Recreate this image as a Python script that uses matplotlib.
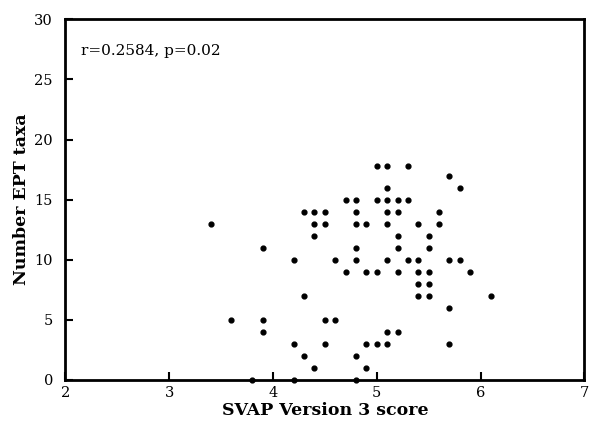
import matplotlib
matplotlib.use("Agg")
import matplotlib.pyplot as plt

# SVAP score vs number of EPT taxa
svap = [3.4, 3.6, 3.8, 3.9, 3.9, 3.9,
        4.2, 4.2, 4.2, 4.3, 4.3, 4.3,
        4.4, 4.4, 4.4, 4.4, 4.5, 4.5, 4.5, 4.5,
        4.6, 4.6, 4.7, 4.7,
        4.8, 4.8, 4.8, 4.8, 4.8, 4.8, 4.8,
        4.9, 4.9, 4.9, 4.9, 5.0, 5.0, 5.0, 5.0,
        5.1, 5.1, 5.1, 5.1, 5.1, 5.1, 5.1, 5.1,
        5.2, 5.2, 5.2, 5.2, 5.2, 5.2,
        5.3, 5.3, 5.3,
        5.4, 5.4, 5.4, 5.4, 5.4,
        5.5, 5.5, 5.5, 5.5, 5.5,
        5.6, 5.6, 5.7, 5.7, 5.7, 5.7,
        5.8, 5.8, 5.9, 6.1]
ept = [13, 5, 0, 11, 5, 4,
       10, 3, 0, 14, 7, 2,
       14, 13, 12, 1, 14, 13, 5, 3,
       10, 5, 15, 9,
       15, 14, 13, 11, 10, 2, 0,
       13, 9, 3, 1, 17.8, 15, 9, 3,
       17.8, 16, 15, 14, 13, 10, 4, 3,
       15, 14, 12, 11, 9, 4,
       17.8, 15, 10,
       13, 10, 9, 8, 7,
       12, 11, 9, 8, 7,
       14, 13, 17, 10, 6, 3,
       16, 10, 9, 7]

plt.rcParams['font.family'] = ['DejaVu Serif']

fig = plt.figure(figsize=(6.03, 4.26), dpi=100)
ax = fig.add_axes([0.1085, 0.108, 0.8605, 0.8467])

ax.scatter(svap, ept, s=12, color='black', clip_on=False, zorder=3)

ax.set_xlim(2, 7)
ax.set_ylim(0, 30)
ax.set_xticks([2, 3, 4, 5, 6, 7])
ax.set_yticks([0, 5, 10, 15, 20, 25, 30])
ax.tick_params(direction='in', length=6, width=1.5, labelsize=10.5)
ax.tick_params(axis='x', pad=4)
ax.tick_params(axis='y', pad=9)
for sp in ax.spines.values():
    sp.set_linewidth(2)

ax.text(2.15, 27.4, "r=0.2584, p=0.02", fontsize=11, va='center', ha='left')

ax.set_xlabel("SVAP Version 3 score", fontsize=12.5, fontweight='bold', labelpad=2)
ax.set_ylabel("Number EPT taxa", fontsize=12.5, fontweight='bold', labelpad=3)

fig.savefig("out.png", dpi=100)
